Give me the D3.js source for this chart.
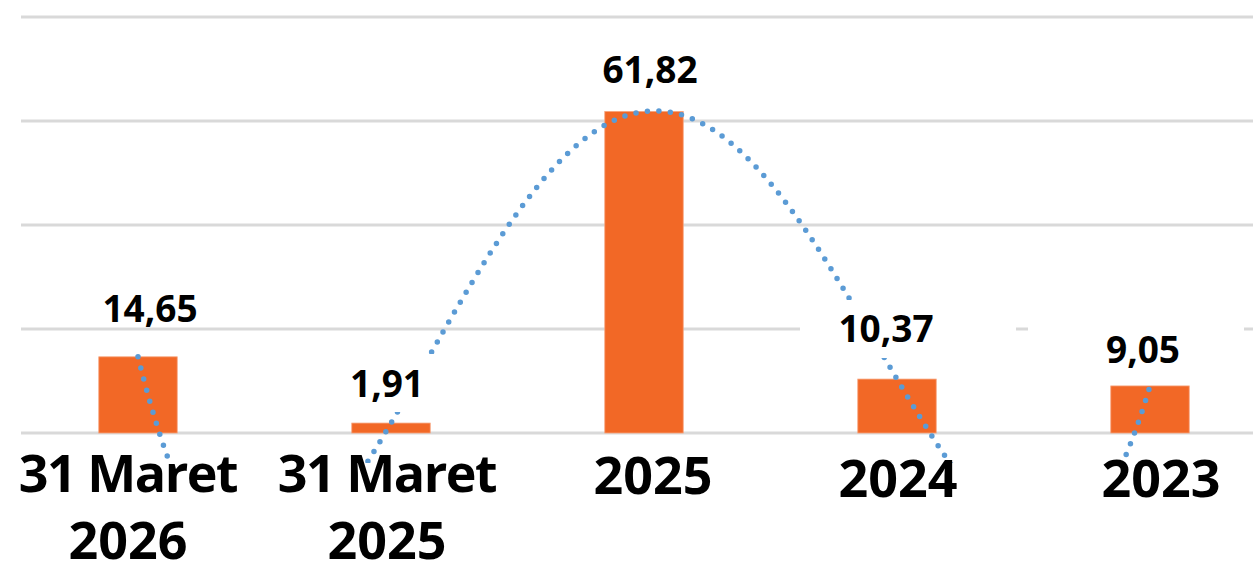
<!DOCTYPE html>
<html>
<head>
<meta charset="utf-8">
<script src="https://cdn.jsdelivr.net/npm/d3@7"></script>
<style>
  body { margin: 0; background: #fff; }
  svg { display: block; }
</style>
</head>
<body>
<div id="chart"></div>
<script>
// data
var categories = [["31 Maret", "2026"], ["31 Maret", "2025"], ["2025"], ["2024"], ["2023"]];
var values = [14.65, 1.91, 61.82, 10.37, 9.05];
var valueLabels = ["14,65", "1,91", "61,82", "10,37", "9,05"];
var yTicks = [0, 20, 40, 60, 80];

var width = 1253, height = 568;
var barColor = "#F26826", trendColor = "#5B9BD5", gridColor = "#D9D9D9";

var svg = d3.select("#chart").append("svg")
  .attr("width", width).attr("height", height);

var x = d3.scaleBand()
  .domain(d3.range(values.length))
  .range([11.5, 1276.5])
  .paddingInner(0.69).paddingOuter(0.345);

var y = d3.scaleLinear().domain([0, 80]).range([433, 17]);

// gridlines
svg.append("g").selectAll("line")
  .data(yTicks)
  .enter().append("line")
    .attr("x1", 21).attr("x2", width)
    .attr("y1", d => y(d)).attr("y2", d => y(d))
    .attr("stroke", gridColor).attr("stroke-width", 3);

// bars
svg.append("g").selectAll("rect")
  .data(values)
  .enter().append("rect")
    .attr("x", (d, i) => x(i))
    .attr("y", d => y(d))
    .attr("width", x.bandwidth())
    .attr("height", d => y(0) - y(d))
    .attr("fill", barColor)
    .attr("stroke", "#F7A27A").attr("stroke-width", 0.8);

// polynomial trendline (order 4 -> passes through every point)
var cx = function(i) { return x(i) + x.bandwidth() / 2; };
var poly = function(t) {
  var s = 0;
  for (var i = 0; i < values.length; i++) {
    var l = 1;
    for (var j = 0; j < values.length; j++) {
      if (j != i) l *= (t - j) / (i - j);
    }
    s += values[i] * l;
  }
  return s;
};
var trendPts = d3.range(0, 4.0001, 0.005).map(function(t) {
  return [cx(0) + t * (cx(1) - cx(0)), y(poly(t))];
});

svg.append("clipPath").attr("id", "plotClip")
  .append("rect").attr("x", 0).attr("y", 0).attr("width", width).attr("height", 463);

svg.append("path")
  .datum(trendPts)
  .attr("clip-path", "url(#plotClip)")
  .attr("d", d3.line())
  .attr("fill", "none")
  .attr("stroke", trendColor)
  .attr("stroke-width", 5.5)
  .attr("stroke-linecap", "round")
  .attr("stroke-dasharray", "0 11.5");

// data labels (some with white background boxes)
var labelPos = [
  {dx: 12, y: 322, box: null},
  {dx: -4, y: 397, box: [340, 354, 105, 58]},
  {dx: 6, y: 83, box: null},
  {dx: -11, y: 342, box: [800, 300, 216, 58]},
  {dx: -7, y: 363, box: [1028, 318, 216, 62]}
];

svg.append("g").selectAll("rect")
  .data(labelPos.filter(d => d.box))
  .enter().append("rect")
    .attr("x", d => d.box[0]).attr("y", d => d.box[1])
    .attr("width", d => d.box[2]).attr("height", d => d.box[3])
    .attr("fill", "#fff");

svg.append("g").selectAll("text")
  .data(valueLabels)
  .enter().append("text")
    .attr("x", (d, i) => cx(i) + labelPos[i].dx)
    .attr("y", (d, i) => labelPos[i].y)
    .attr("text-anchor", "middle")
    .attr("font-family", "'Open Sans', sans-serif")
    .attr("font-weight", 700)
    .attr("font-size", 37)
    .attr("fill", "#000")
    .text(d => d);

// category labels
var catOffset = [[-10, 492], [-4, 492], [9, 494], [1, 497], [11, 497]];
var cat = svg.append("g").selectAll("text")
  .data(categories)
  .enter().append("text")
    .attr("x", (d, i) => cx(i) + catOffset[i][0])
    .attr("y", (d, i) => catOffset[i][1])
    .attr("text-anchor", "middle")
    .attr("font-family", "'Open Sans', sans-serif")
    .attr("font-weight", 700)
    .attr("font-size", 52)
    .attr("fill", "#000");

cat.selectAll("tspan")
  .data(function(d, i) { return d.map(function(s) { return {s: s, i: i}; }); })
  .enter().append("tspan")
    .attr("x", d => cx(d.i) + catOffset[d.i][0])
    .attr("dy", (d, k) => k == 0 ? 0 : 67)
    .attr("letter-spacing", d => d.s.length > 4 ? -1.5 : 0)
    .text(d => d.s);
</script>
</body>
</html>
